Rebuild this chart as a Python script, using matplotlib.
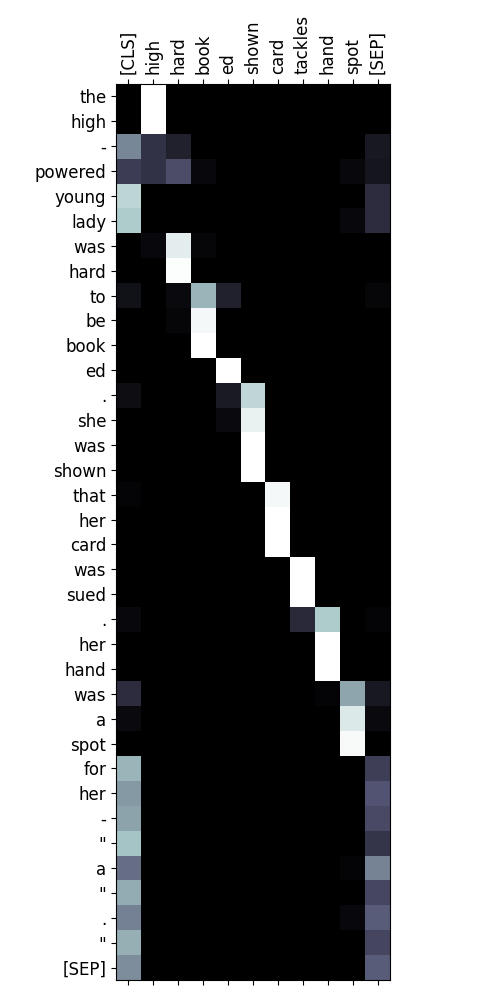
import numpy as np
import matplotlib
matplotlib.use("Agg")
import matplotlib.pyplot as plt

cols = ["[CLS]", "high", "hard", "book", "ed", "shown", "card", "tackles", "hand", "spot", "[SEP]"]
rows = ["the", "high", "-", "powered", "young", "lady", "was", "hard", "to", "be", "book", "ed", ".",
        "she", "was", "shown", "that", "her", "card", "was", "sued", ".", "her", "hand", "was", "a",
        "spot", "for", "her", "-", '"', "a", '"', ".", '"', "[SEP]"]

# attention weights: {row: {col: value}}
attn = {
    0: {1: 1.0},
    1: {1: 1.0},
    2: {0: 0.54, 1: 0.23, 2: 0.15, 10: 0.11},
    3: {0: 0.27, 1: 0.23, 2: 0.34, 3: 0.04, 9: 0.04, 10: 0.10},
    4: {0: 0.81, 10: 0.20},
    5: {0: 0.77, 9: 0.04, 10: 0.20},
    6: {1: 0.04, 2: 0.92, 3: 0.03},
    7: {2: 0.99},
    8: {0: 0.08, 2: 0.05, 3: 0.69, 4: 0.15, 10: 0.03},
    9: {2: 0.03, 3: 0.97},
    10: {3: 1.0},
    11: {4: 1.0},
    12: {0: 0.06, 4: 0.12, 5: 0.82},
    13: {4: 0.05, 5: 0.94},
    14: {5: 1.0},
    15: {5: 1.0},
    16: {0: 0.02, 6: 0.97},
    17: {6: 1.0},
    18: {6: 1.0},
    19: {7: 1.0},
    20: {7: 1.0},
    21: {0: 0.04, 7: 0.19, 8: 0.77, 10: 0.02},
    22: {8: 1.0},
    23: {8: 1.0},
    24: {0: 0.20, 8: 0.02, 9: 0.64, 10: 0.11},
    25: {0: 0.05, 9: 0.90, 10: 0.05},
    26: {9: 0.98},
    27: {0: 0.69, 10: 0.28},
    28: {0: 0.60, 10: 0.37},
    29: {0: 0.63, 10: 0.33},
    30: {0: 0.74, 10: 0.24},
    31: {0: 0.46, 9: 0.02, 10: 0.53},
    32: {0: 0.66, 10: 0.32},
    33: {0: 0.52, 9: 0.04, 10: 0.40},
    34: {0: 0.67, 10: 0.31},
    35: {0: 0.56, 10: 0.40},
}

M = np.zeros((len(rows), len(cols)))
for r, d in attn.items():
    for c, v in d.items():
        M[r, c] = v

fig = plt.figure(figsize=(5, 10), dpi=100)
ax = fig.add_axes([0.232, 0.02, 0.548, 0.896])
ax.imshow(M, cmap="bone", vmin=0, vmax=1, aspect="auto", interpolation="nearest")
ax.set_xticks(range(len(cols)))
ax.set_xticklabels(cols, rotation=90, fontsize=12)
ax.set_yticks(range(len(rows)))
ax.set_yticklabels(rows, fontsize=12)
ax.tick_params(axis="x", top=True, labeltop=True, bottom=True, labelbottom=False)
fig.savefig("out.png", dpi=100)
